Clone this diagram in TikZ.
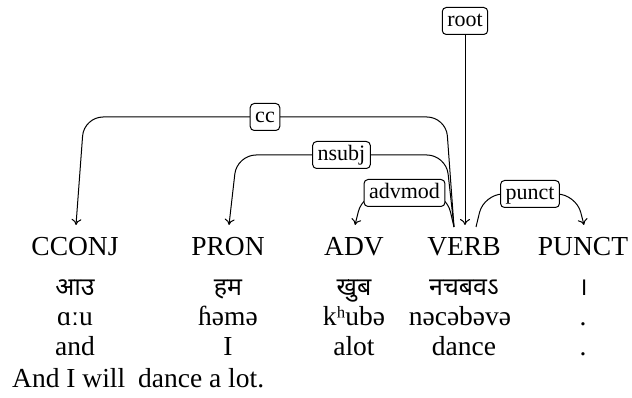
\documentclass[tikz,border=0pt]{standalone}
\usepackage{fontspec}
\setmainfont{Liberation Serif}
\newfontfamily\deva[Script=Devanagari]{Noto Sans}
\usetikzlibrary{arrows.meta}
\begin{document}
\begin{tikzpicture}[x=1pt,y=-1pt,
  word/.style={anchor=base,inner sep=0pt,font=\fontsize{27.5}{32}\selectfont},
  dword/.style={anchor=base,inner sep=0pt,font=\fontsize{25}{28}\selectfont\deva},
  lab/.style={draw,fill=white,rounded corners=4pt,inner xsep=5pt,inner ysep=3.5pt,
    text height=15.5pt,text depth=4.5pt,font=\fontsize{22}{26}\selectfont,line width=1pt},
  edge/.style={draw,line width=1pt,rounded corners=19pt,-{To[length=6pt,width=10pt]}}]
\useasboundingbox (0,0) rectangle (632,398);
% POS row
\node[word] (w1) at (75,255) {CCONJ};
\node[word] (w2) at (228,255) {PRON};
\node[word] (w3) at (354,255) {ADV};
\node[word] (w4) at (464,255) {VERB};
\node[word] (w5) at (583,255) {PUNCT};
% Devanagari row
\node[dword] (d1) at (75,295) {आउ};
\node[dword] (d2) at (228,295) {हम};
\node[dword] (d3) at (354,295) {खुब};
\node[dword] (d4) at (464,295) {नचबवऽ};
\node[dword] (d5) at (583,295) {।};
% IPA row
\node[word] (i1) at (75,325) {ɑːu};
\node[word] (i2) at (228,325) {ɦəmə};
\node[word] (i3) at (354,325) {kʰubə};
\node[word] (i4) at (460,325) {nəcəbəvə};
\node[word] (i5) at (583,325) {.};
% gloss row
\node[word] (g1) at (75,355) {and};
\node[word] (g2) at (228,355) {I};
\node[word] (g3) at (354,355) {alot};
\node[word] (g4) at (464,355) {dance};
\node[word] (g5) at (583,355) {.};
% sentence
\node[word,anchor=base west] (sent) at (12,387) {And I will\hspace{6pt} dance a lot.};
% anchors
\path (w1.base) ++(1,-30) coordinate (t1);
\path (w2.base) ++(1,-30) coordinate (t2);
\path (w3.base) ++(1,-30) coordinate (t3);
\path (w5.base) ++(1,-30) coordinate (t5);
\path (w4.base) ++(-10,-28) coordinate (vin);
\path (w4.base) ++(12,-28) coordinate (vout);
\path (w4.base) ++(1,-30) coordinate (troot);
\coordinate (Lcc) at (0,117);
\coordinate (Lns) at (0,155);
\coordinate (Lad) at (0,193);
\coordinate (Lpu) at (0,194);
% edges
\draw[edge] (vin) -- ([xshift=-8pt]vin |- Lcc) -- node[lab] (lcc) {cc} ([xshift=8pt]t1 |- Lcc) -- (t1);
\draw[edge] (vin) -- ([xshift=-8pt]vin |- Lns) -- node[lab] (lns) {nsubj} ([xshift=8pt]t2 |- Lns) -- (t2);
\draw[edge] (vin) -- ([xshift=-8pt]vin |- Lad) -- node[lab] (lad) {advmod} ([xshift=8pt]t3 |- Lad) -- (t3);
\draw[edge] (vout) -- ([xshift=8pt]vout |- Lpu) -- node[lab] (lpu) {punct} ([xshift=-8pt]t5 |- Lpu) -- (t5);
\node[lab] (lroot) at (465,21) {root};
\draw[edge] (lroot) -- (troot);
\end{tikzpicture}
\end{document}
